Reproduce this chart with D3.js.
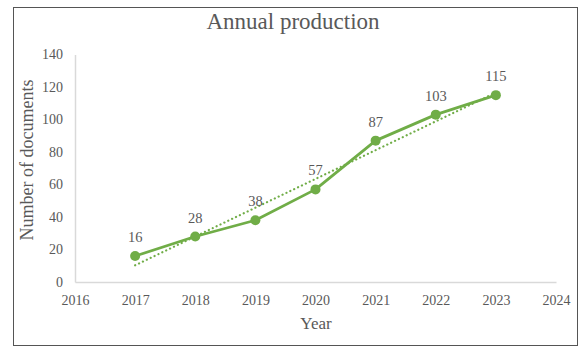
<!DOCTYPE html>
<html>
<head>
<meta charset="utf-8">
<script src="https://cdn.jsdelivr.net/npm/d3@7"></script>
<style>
  body { margin: 0; background: #fff; }
  text { font-family: "Liberation Serif", "Times New Roman", serif; fill: #595959; }
</style>
</head>
<body>
<svg width="579" height="347"></svg>
<script>
var years = [2017, 2018, 2019, 2020, 2021, 2022, 2023];
var docs = [16, 28, 38, 57, 87, 103, 115];
var xTicks = [2016, 2017, 2018, 2019, 2020, 2021, 2022, 2023, 2024];
var yTicks = [0, 20, 40, 60, 80, 100, 120, 140];

var green = "#70ad47";
var svg = d3.select("svg");

// frame
svg.append("rect")
  .attr("x", 13.5).attr("y", 7.5)
  .attr("width", 564).attr("height", 338)
  .attr("fill", "none")
  .attr("stroke", "#555")
  .attr("stroke-width", 1);

var x = d3.scaleLinear().domain([2016, 2024]).range([75, 556]);
var y = d3.scaleLinear().domain([0, 140]).range([282, 54.5]);

// axes
var xAxis = svg.append("g")
  .attr("transform", "translate(0," + y(0) + ")")
  .call(d3.axisBottom(x).tickValues(xTicks).tickFormat(d3.format("d")).tickSize(0).tickPadding(13));
xAxis.select(".domain").attr("stroke", "#d9d9d9").attr("stroke-width", 1.5);
xAxis.selectAll("text").style("font-size", "14px").attr("fill", "#595959");

var yAxis = svg.append("g")
  .attr("transform", "translate(" + x(2016) + ",0)")
  .call(d3.axisLeft(y).tickValues(yTicks).tickSize(0).tickPadding(12));
yAxis.select(".domain").attr("stroke", "#d9d9d9").attr("stroke-width", 1.5);
yAxis.selectAll("text").style("font-size", "14px").attr("fill", "#595959");

// title & axis titles
svg.append("text")
  .attr("x", 293).attr("y", 29)
  .attr("text-anchor", "middle")
  .style("font-size", "23px")
  .text("Annual production");

svg.append("text")
  .attr("x", 316).attr("y", 329)
  .attr("text-anchor", "middle")
  .style("font-size", "17px")
  .text("Year");

svg.append("text")
  .attr("transform", "translate(33,160) rotate(-90)")
  .attr("text-anchor", "middle")
  .style("font-size", "18px")
  .text("Number of documents");

// linear trendline (least squares over the series)
var mx = d3.mean(years), my = d3.mean(docs);
var slope = d3.sum(years, function(d, i) { return (d - mx) * (docs[i] - my); }) /
  d3.sum(years, function(d) { return (d - mx) * (d - mx); });
var icpt = my - slope * mx;
var ends = [years[0], years[years.length - 1]];

svg.append("path")
  .datum(ends)
  .attr("d", d3.line()
    .x(function(d) { return x(d); })
    .y(function(d) { return y(icpt + slope * d); }))
  .attr("fill", "none")
  .attr("stroke", green)
  .attr("stroke-width", 2.2)
  .attr("stroke-linecap", "round")
  .attr("stroke-dasharray", "0.1,4.2");

// series line
svg.append("path")
  .datum(docs)
  .attr("d", d3.line()
    .x(function(d, i) { return x(years[i]); })
    .y(function(d) { return y(d); }))
  .attr("fill", "none")
  .attr("stroke", green)
  .attr("stroke-width", 2.8)
  .attr("stroke-linejoin", "round");

svg.selectAll("circle")
  .data(docs)
  .enter()
  .append("circle")
  .attr("cx", function(d, i) { return x(years[i]); })
  .attr("cy", function(d) { return y(d); })
  .attr("r", 5)
  .attr("fill", green);

svg.selectAll(".lbl")
  .data(docs)
  .enter()
  .append("text")
  .attr("class", "lbl")
  .attr("x", function(d, i) { return x(years[i]); })
  .attr("y", function(d) { return y(d) - 14; })
  .attr("text-anchor", "middle")
  .style("font-size", "14.5px")
  .text(function(d) { return d; });
</script>
</body>
</html>
